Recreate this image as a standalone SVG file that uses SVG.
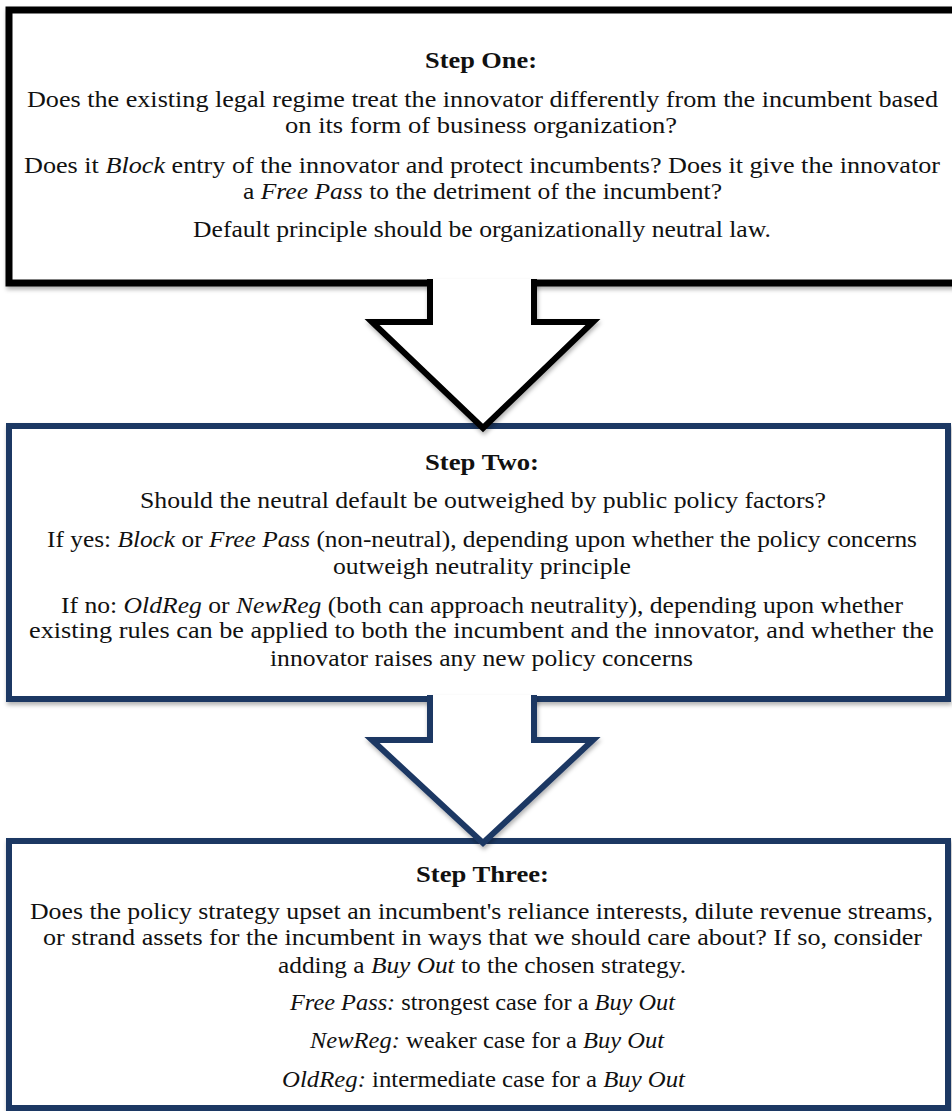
<svg xmlns="http://www.w3.org/2000/svg" width="952" height="1111" viewBox="0 0 952 1111">
<style>
text{font-family:"Liberation Serif","Times New Roman",serif;font-size:23px;fill:#111;}
.h{font-weight:bold;}
.i{font-style:italic;}
.b1{fill:#fff;stroke:#000;stroke-width:7;}
.b2{fill:#fff;stroke:#1f3864;stroke-width:6;}
.a1{fill:#fff;stroke:#000;stroke-width:6;stroke-linejoin:miter;}
.a2{fill:#fff;stroke:#1f3864;stroke-width:6;stroke-linejoin:miter;}
</style>
<defs>
<filter id="sh" x="-5%" y="-5%" width="110%" height="115%">
<feDropShadow dx="1" dy="3" stdDeviation="2" flood-color="#000" flood-opacity="0.3"/>
</filter>
</defs>
<rect width="952" height="1111" fill="#fff"/>
<g id="step1">
<rect class="b1" x="9" y="10" width="960" height="273" filter="url(#sh)"/>
<text class="h" x="425" y="68" textLength="112" lengthAdjust="spacingAndGlyphs">Step One:</text>
<text x="27" y="107" textLength="911" lengthAdjust="spacingAndGlyphs">Does the existing legal regime treat the innovator differently from the incumbent based</text>
<text x="285" y="133" textLength="392" lengthAdjust="spacingAndGlyphs">on its form of business organization?</text>
<text x="24" y="173" textLength="916" lengthAdjust="spacingAndGlyphs">Does it <tspan class="i">Block</tspan> entry of the innovator and protect incumbents? Does it give the innovator</text>
<text x="243" y="199" textLength="479" lengthAdjust="spacingAndGlyphs">a <tspan class="i">Free Pass</tspan> to the detriment of the incumbent?</text>
<text x="193" y="237" textLength="578" lengthAdjust="spacingAndGlyphs">Default principle should be organizationally neutral law.</text>
</g>
<g id="step2">
<rect class="b2" x="9" y="426" width="939" height="273" filter="url(#sh)"/>
<text class="h" x="425" y="470" textLength="114" lengthAdjust="spacingAndGlyphs">Step Two:</text>
<text x="140" y="508" textLength="686" lengthAdjust="spacingAndGlyphs">Should the neutral default be outweighed by public policy factors?</text>
<text x="47" y="547" textLength="870" lengthAdjust="spacingAndGlyphs">If yes: <tspan class="i">Block</tspan> or <tspan class="i">Free Pass</tspan> (non-neutral), depending upon whether the policy concerns</text>
<text x="333" y="574" textLength="298" lengthAdjust="spacingAndGlyphs">outweigh neutrality principle</text>
<text x="61" y="613" textLength="842" lengthAdjust="spacingAndGlyphs">If no: <tspan class="i">OldReg</tspan> or <tspan class="i">NewReg</tspan> (both can approach neutrality), depending upon whether</text>
<text x="29" y="638" textLength="905" lengthAdjust="spacingAndGlyphs">existing rules can be applied to both the incumbent and the innovator, and whether the</text>
<text x="270" y="666" textLength="423" lengthAdjust="spacingAndGlyphs">innovator raises any new policy concerns</text>
</g>
<g id="step3">
<rect class="b2" x="9" y="841" width="939" height="267" filter="url(#sh)"/>
<text class="h" x="416" y="882" textLength="133" lengthAdjust="spacingAndGlyphs">Step Three:</text>
<text x="30" y="919" textLength="903" lengthAdjust="spacingAndGlyphs">Does the policy strategy upset an incumbent's reliance interests, dilute revenue streams,</text>
<text x="43" y="945" textLength="879" lengthAdjust="spacingAndGlyphs">or strand assets for the incumbent in ways that we should care about? If so, consider</text>
<text x="278" y="973" textLength="408" lengthAdjust="spacingAndGlyphs">adding a <tspan class="i">Buy Out</tspan> to the chosen strategy.</text>
<text x="290" y="1010" textLength="385" lengthAdjust="spacingAndGlyphs"><tspan class="i">Free Pass:</tspan> strongest case for a <tspan class="i">Buy Out</tspan></text>
<text x="310" y="1048" textLength="354" lengthAdjust="spacingAndGlyphs"><tspan class="i">NewReg:</tspan> weaker case for a <tspan class="i">Buy Out</tspan></text>
<text x="282" y="1087" textLength="403" lengthAdjust="spacingAndGlyphs"><tspan class="i">OldReg:</tspan> intermediate case for a <tspan class="i">Buy Out</tspan></text>
</g>
<g id="connectors">
<path class="a1" d="M430,279 L430,322 L372,322 L483,428 L593,322 L534,322 L534,279" filter="url(#sh)"/>
<path class="a2" d="M430,695 L430,740 L372,740 L483,843 L593,740 L534,740 L534,695" filter="url(#sh)"/>
</g>
</svg>
